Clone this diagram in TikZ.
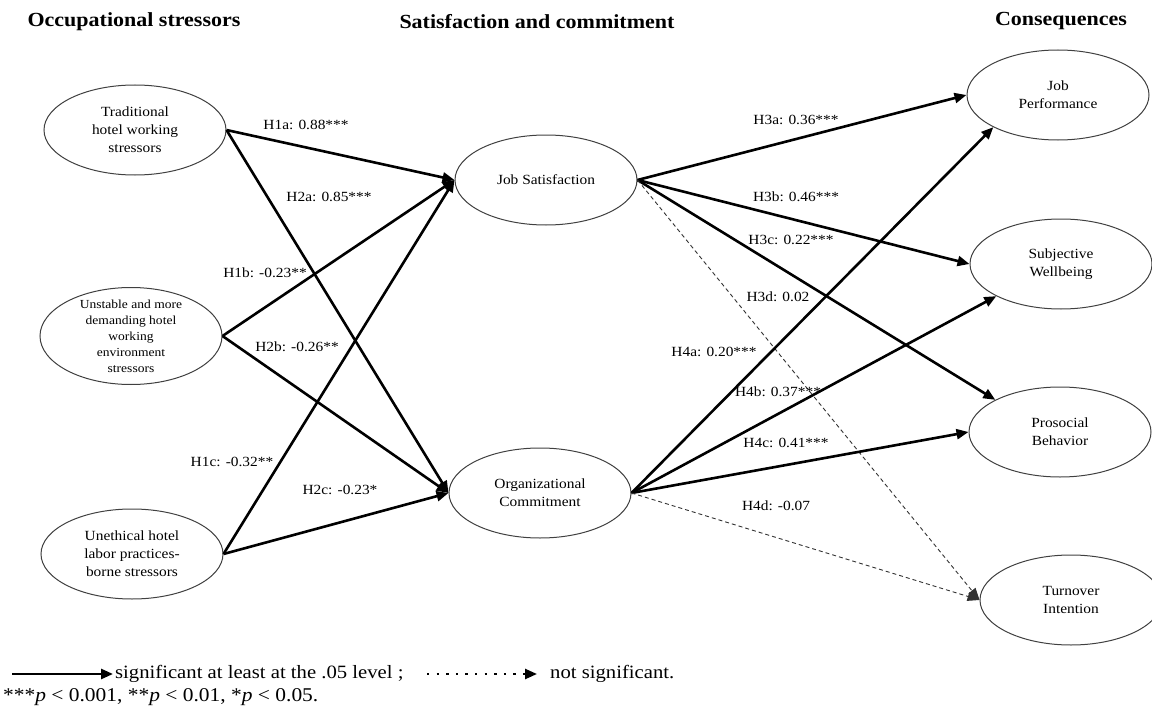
\documentclass[tikz,border=0pt]{standalone}
\usepackage{fontspec}
\setmainfont{Liberation Serif}[FakeStretch=1.1]
\usepackage{tikz}
\usetikzlibrary{shapes.geometric,arrows.meta}
\pgfkeys{tikz/construct/.style={ellipse,draw=black!75,line width=1pt,minimum width=182pt,minimum height=90pt,inner sep=0pt}}
\pgfkeys{tikz/constext/.style={align=center,font=\fontsize{14}{18}\selectfont}}
\pgfkeys{tikz/constextsmall/.style={align=center,font=\fontsize{12.3}{16}\selectfont}}
\pgfkeys{tikz/sig/.style={line width=2.6pt,-{Triangle[length=12pt,width=10pt]}}}
\pgfkeys{tikz/nonsig/.style={line width=0.9pt,draw=black!80,dash pattern=on 4pt off 3pt,-{Triangle[length=12pt,width=9pt]}}}
\pgfkeys{tikz/coef/.style={font=\fontsize{14}{16}\selectfont,inner sep=1pt}}
\pgfkeys{tikz/heading/.style={font=\fontsize{20}{22}\selectfont\bfseries}}
\pgfkeys{tikz/legendtext/.style={font=\fontsize{18.8}{20}\selectfont,anchor=west,inner sep=0pt}}
\newcommand*\latent[4][constext]{
    \node[construct,label={[#1]center:#4}] (#2) at (#3) {};
}

\begin{document}
\begin{tikzpicture}[x=1pt,y=-1pt]
    \useasboundingbox (0,0) rectangle (1152,709);
    \node[heading] (hstress) at (134,22) {Occupational stressors};
    \node[heading] (hsat) at (537,22) {Satisfaction and commitment};
    \node[heading] (hcons) at (1061,21) {Consequences};

    \latent{trad}{135,130}{Traditional\\hotel working\\stressors}
    \node[construct,minimum height=97pt,label={[constextsmall]center:Unstable and more\\demanding hotel\\working\\environment\\stressors}] (unst) at (131,336) {};
    \latent{uneth}{132,554}{Unethical hotel\\labor practices-\\borne stressors}
    \latent{js}{546,180}{Job Satisfaction}
    \latent{oc}{540,493}{Organizational\\Commitment}
    \latent{jp}{1058,95}{Job\\Performance}
    \latent{sw}{1061,264}{Subjective\\Wellbeing}
    \latent{pb}{1060,432}{Prosocial\\Behavior}
    \latent{to}{1071,600}{Turnover\\Intention}

    \draw[sig] (trad.east) -- (js.west);
    \draw[sig] (trad.east) -- (oc.west);
    \draw[sig] (unst.east) -- (js.west);
    \draw[sig] (unst.east) -- (oc.west);
    \draw[sig] (uneth.east) -- (js.west);
    \draw[sig] (uneth.east) -- (oc.west);

    \draw[sig] (js.east) -- (jp.west);
    \draw[sig] (js.east) -- (sw.west);
    \draw[sig] (js.east) -- (pb.north west);
    \draw[nonsig] (js.east) -- (to.west);
    \draw[sig] (oc.east) -- (jp.south west);
    \draw[sig] (oc.east) -- (sw.south west);
    \draw[sig] (oc.east) -- (pb.west);
    \draw[nonsig] (oc.east) -- (to.west);

    \node[coef] (h1a) at (306,125) {H1a: 0.88***};
    \node[coef] (h2a) at (329,197) {H2a: 0.85***};
    \node[coef] (h1b) at (265,273) {H1b: -0.23**};
    \node[coef] (h2b) at (297,347) {H2b: -0.26**};
    \node[coef] (h1c) at (232,462) {H1c: -0.32**};
    \node[coef] (h2c) at (340,490) {H2c: -0.23*};
    \node[coef] (h3a) at (796,120) {H3a: 0.36***};
    \node[coef] (h3b) at (796,197) {H3b: 0.46***};
    \node[coef] (h3c) at (791,240) {H3c: 0.22***};
    \node[coef] (h3d) at (778,297) {H3d: 0.02};
    \node[coef] (h4a) at (714,352) {H4a: 0.20***};
    \node[coef] (h4b) at (778,392) {H4b: 0.37***};
    \node[coef] (h4c) at (786,443) {H4c: 0.41***};
    \node[coef] (h4d) at (776,506) {H4d: -0.07};

    \coordinate (sigstart) at (12,674);
    \coordinate (sigend) at (113,674);
    \draw[sig] (sigstart) -- (sigend);
    \node[legendtext] (sigtext) at (115,674) {significant at least at the .05 level ;};
    \coordinate (nsstart) at (427,674);
    \coordinate (nsend) at (537,674);
    \draw[line width=2.4pt,dash pattern=on 2.4pt off 7.2pt,-{Triangle[length=12pt,width=10pt]}] (nsstart) -- (nsend);
    \node[legendtext] (nstext) at (550,674) {not significant.};
    \node[legendtext,font=\fontsize{19.5}{21}\selectfont] (ptext) at (3,697) {***\textit{p} < 0.001, **\textit{p} < 0.01, *\textit{p} < 0.05.};
\end{tikzpicture}
\end{document}
